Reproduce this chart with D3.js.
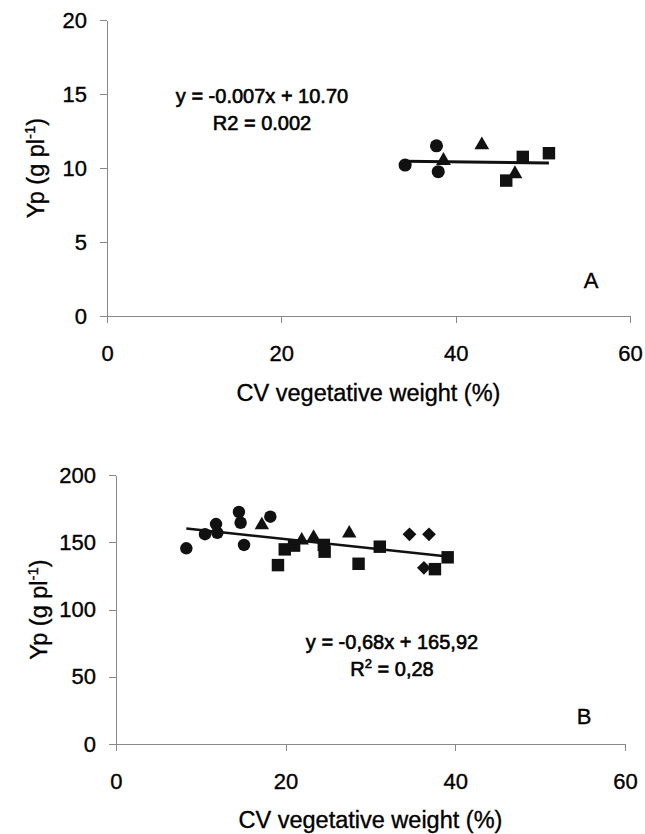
<!DOCTYPE html>
<style>
body { margin: 0; background: #fff; }
svg { display: block; }
text { font-family: "Liberation Sans", Arial, sans-serif; fill: #000; stroke: #000; stroke-width: 0.35px; }
.axis path, .axis line { stroke: #888; shape-rendering: crispEdges; }
.axis text { font-size: 22px; fill: #000; }
</style>
<svg width="645" height="834"></svg>
<script src="https://d3js.org/d3.v7.min.js"></script>
<script>

// panel A data  [CV %, Yp]
var aCircles   = [[34.2, 10.2], [37.8, 11.5], [38.0, 9.75]];
var aTriangles = [[38.6, 10.5], [43.0, 11.55], [46.8, 9.6]];
var aSquares   = [[45.8, 9.15], [47.7, 10.75], [50.7, 11.0]];
var aTicksX = [0, 20, 40, 60];
var aTicksY = [0, 5, 10, 15, 20];
var aFit = { slope: -0.007, icpt: 10.70, eq: "y = -0.007x + 10.70", r2: "R2 = 0.002" };

// panel B data
var bCircles   = [[8.3, 145.5], [10.5, 156], [11.8, 163.5], [11.95, 157], [14.5, 172.5],
                  [14.7, 164.5], [15.1, 148], [18.2, 169]];
var bTriangles = [[17.2, 162.8], [21.9, 151.5], [23.3, 153.5], [27.5, 156.7]];
var bSquares   = [[19.1, 133], [19.9, 144.7], [21.0, 147.5], [24.5, 148], [24.6, 143],
                  [28.6, 134], [31.1, 146.7], [37.6, 130], [39.1, 138.8]];
var bDiamonds  = [[34.6, 155.9], [36.9, 155.9], [36.3, 131]];
var bTicksX = [0, 20, 40, 60];
var bTicksY = [0, 50, 100, 150, 200];
var bFit = { slope: -0.68, icpt: 165.92, eq: "y = -0,68x + 165,92", r2: "R" };

var svg = d3.select("svg");

function drawPanel(p) {
    var x = d3.scaleLinear().domain([0, 60]).range(p.xr);
    var y = d3.scaleLinear().domain([0, p.ymax]).range(p.yr);

    svg.append("g")
        .attr("class", "axis")
        .attr("transform", "translate(0," + p.yr[0] + ")")
        .call(d3.axisBottom(x).tickValues(p.ticksX).tickSizeInner(7).tickSizeOuter(0).tickPadding(22));

    svg.append("g")
        .attr("class", "axis")
        .attr("transform", "translate(" + p.xr[0] + ",0)")
        .call(d3.axisLeft(y).tickValues(p.ticksY).tickSizeInner(7).tickSizeOuter(0).tickPadding(13));

    // regression line over the data range
    var all = p.groups.reduce(function(a, g) { return a.concat(g.data); }, []);
    var ext = d3.extent(all, function(d) { return d[0]; });
    svg.append("path")
        .datum(ext)
        .attr("fill", "none")
        .attr("stroke", "#111")
        .attr("stroke-width", p.lw)
        .attr("d", d3.line()
            .x(function(d) { return x(d); })
            .y(function(d) { return y(p.fit.slope * d + p.fit.icpt); }));

    p.groups.forEach(function(g) {
        svg.append("g").selectAll("path")
            .data(g.data)
            .enter().append("path")
            .attr("fill", "#111")
            .attr("d", d3.symbol().type(g.type).size(g.size))
            .attr("transform", function(d) {
                return "translate(" + x(d[0]) + "," + y(d[1]) + ")" + (g.rot ? " rotate(45)" : "");
            });
    });

    svg.append("text")
        .attr("x", (p.xr[0] + p.xr[1]) / 2)
        .attr("y", p.titleY)
        .attr("text-anchor", "middle")
        .style("font-size", "23.5px")
        .text("CV vegetative weight (%)");

    var yl = svg.append("text")
        .attr("transform", "translate(" + p.ylabX + "," + (p.yr[0] + p.yr[1]) / 2 + ") rotate(-90)")
        .attr("text-anchor", "middle")
        .style("font-size", "23.5px");
    yl.append("tspan").text("Yp (g pl");
    yl.append("tspan").attr("dy", -9).style("font-size", "15px").text("-1");
    yl.append("tspan").attr("dy", 9).text(")");

    svg.append("text")
        .attr("x", p.eqX).attr("y", p.eqY)
        .attr("text-anchor", "middle")
        .style("font-size", "20px")
        .style("stroke-width", "0.6px")
        .text(p.fit.eq);

    var r = svg.append("text")
        .attr("x", p.eqX).attr("y", p.eqY + 27)
        .attr("text-anchor", "middle")
        .style("font-size", "20px")
        .style("stroke-width", "0.6px");
    if (p.sup) {
        r.append("tspan").text("R");
        r.append("tspan").attr("dy", -8).style("font-size", "13px").text("2");
        r.append("tspan").attr("dy", 8).text(" = 0,28");
    } else {
        r.text(p.fit.r2);
    }

    svg.append("text")
        .attr("x", p.tagX).attr("y", p.tagY)
        .attr("text-anchor", "middle")
        .style("font-size", "22px")
        .text(p.tag);
}

var circle = d3.symbolCircle, tri = d3.symbolTriangle, sq = d3.symbolSquare;

drawPanel({
    xr: [107, 630], yr: [316, 20], ymax: 20,
    ticksX: aTicksX, ticksY: aTicksY, fit: aFit, lw: 3,
    groups: [
        { data: aCircles, type: circle, size: 135 },
        { data: aTriangles, type: tri, size: 95 },
        { data: aSquares, type: sq, size: 155 }
    ],
    titleY: 401, ylabX: 44, eqX: 262, eqY: 103, tag: "A", tagX: 591, tagY: 288
});

drawPanel({
    xr: [115.9, 625], yr: [744, 475], ymax: 200,
    ticksX: bTicksX, ticksY: bTicksY, fit: bFit, lw: 2.5, sup: true,
    groups: [
        { data: bCircles, type: circle, size: 122 },
        { data: bTriangles, type: tri, size: 90 },
        { data: bSquares, type: sq, size: 155 },
        { data: bDiamonds, type: sq, size: 95, rot: true }
    ],
    titleY: 828, ylabX: 47, eqX: 392, eqY: 649, tag: "B", tagX: 584, tagY: 724
});

</script>
